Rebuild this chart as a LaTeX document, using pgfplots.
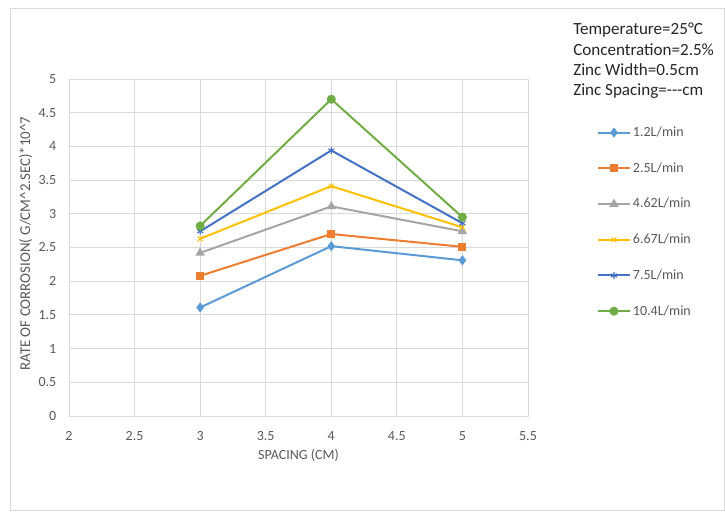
\documentclass[border=0pt]{standalone}
\usepackage{pgfplots}
\pgfplotsset{compat=1.18}
\usepackage{fontspec}
\setmainfont{Carlito}
\definecolor{c1}{HTML}{5B9BD5}
\definecolor{c2}{HTML}{ED7D31}
\definecolor{c3}{HTML}{A5A5A5}
\definecolor{c4}{HTML}{FFC000}
\definecolor{c5}{HTML}{4472C4}
\definecolor{c6}{HTML}{70AD47}
\definecolor{gridc}{HTML}{D9D9D9}
\definecolor{txt}{HTML}{595959}
\begin{document}
\begin{tikzpicture}[x=0.75pt,y=0.75pt]
\useasboundingbox (0,0) rectangle (725,517);
\draw[gridc] (10,7) rectangle (724,509);
\coordinate (A) at (69,101);
\begin{axis}[
  at={(A)}, anchor=south west,
  scale only axis, width=344.25pt, height=252.75pt,
  xmin=2, xmax=5.5, ymin=0, ymax=5,
  xtick={2,2.5,...,5.5}, ytick={0,0.5,...,5},
  grid=major, grid style={gridc, line width=0.6pt},
  axis line style={gridc},
  tick style={draw=none},
  tick label style={font=\fontsize{10.5}{12}\selectfont, text=txt},
  yticklabel style={xshift=-6pt},
  xticklabel style={yshift=-8pt},
  /pgf/number format/assume math mode=true,
  xlabel style={font=\fontsize{10.5}{12}\selectfont, text=txt, yshift=0.5pt},
  ylabel style={font=\fontsize{11.2}{12}\selectfont, text=txt, yshift=-2pt, xshift=3pt},
  xlabel={SPACING (CM)},
  ylabel={RATE OF CORROSION( G/CM\textasciicircum 2.SEC)*10\textasciicircum 7},
  every axis plot/.append style={line width=1.5pt, mark size=2.6pt},
  legend style={at={(1.141,0.875)}, anchor=north west, draw=none, fill=none,
    font=\fontsize{10.5}{12}\selectfont, text=txt, row sep=14pt,
    nodes={inner xsep=1.5pt}},
  legend cell align=left,
  legend image code/.code={
    \draw[#1, mark repeat=2, mark phase=2] plot coordinates {(0pt,0pt) (12pt,0pt) (24pt,0pt)};
  },
]
\addplot[c1, mark=diamond*, mark options={fill=c1}] coordinates {(3,1.61) (4,2.52) (5,2.31)};
\addlegendentry{1.2L/min}
\addplot[c2, mark=square*, mark options={fill=c2}, mark size=2.2pt] coordinates {(3,2.08) (4,2.70) (5,2.51)};
\addlegendentry{2.5L/min}
\addplot[c3, mark=triangle*, mark options={fill=c3}] coordinates {(3,2.42) (4,3.11) (5,2.74)};
\addlegendentry{4.62L/min}
\addplot[c4, mark=x, mark options={line width=0.8pt}] coordinates {(3,2.63) (4,3.41) (5,2.80)};
\addlegendentry{6.67L/min}
\addplot[c5, mark=asterisk, mark options={line width=0.8pt}] coordinates {(3,2.74) (4,3.94) (5,2.86)};
\addlegendentry{7.5L/min}
\addplot[c6, mark=*, mark options={fill=c6}] coordinates {(3,2.82) (4,4.70) (5,2.95)};
\addlegendentry{10.4L/min}
\end{axis}
\node[anchor=north west, align=left, font=\fontsize{12.8}{15.2}\selectfont, text=black!85, inner sep=0pt] at (573,494) {Temperature=25°C\\Concentration=2.5\%\\Zinc Width=0.5cm\\Zinc Spacing={-}{-}{-}cm};
\end{tikzpicture}
\end{document}
